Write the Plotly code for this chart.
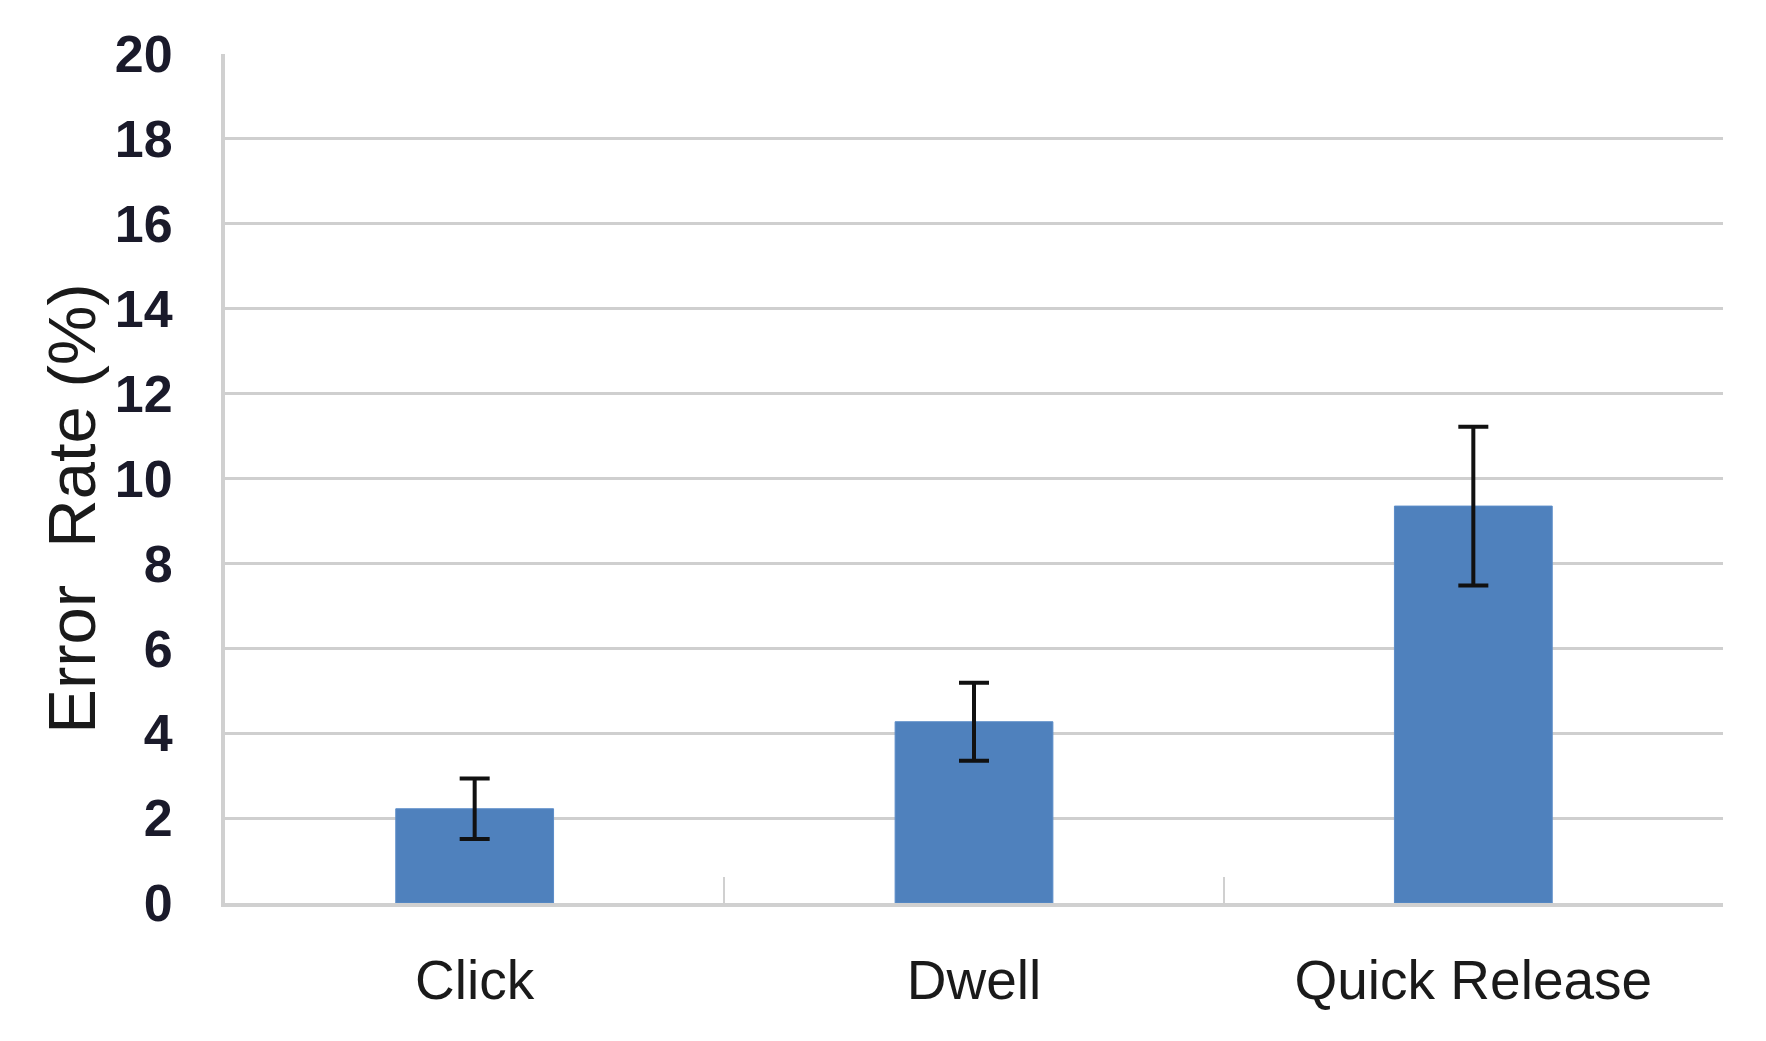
import plotly.graph_objects as go

categories = ["Click", "Dwell", "Quick Release"]
error_rate = [2.22, 4.27, 9.35]
error_sd = [0.71, 0.92, 1.87]
y_ticks = list(range(0, 21, 2))

fig = go.Figure()
fig.add_trace(go.Bar(
    x=categories,
    y=error_rate,
    marker=dict(color="#4f81bd", line=dict(color="#5b8cc8", width=1)),
    error_y=dict(type="data", array=error_sd, visible=True,
                 color="#111111", thickness=4, width=15),
    showlegend=False,
))

fig.update_layout(
    width=1750, height=1025,
    margin=dict(l=217, r=35, t=46, b=130),
    paper_bgcolor="white", plot_bgcolor="white",
    bargap=0.684,
    font=dict(family="Liberation Sans, Arial, sans-serif", color="#1a1a1a"),
)
fig.update_yaxes(
    range=[0, 20], tickvals=y_ticks, ticktext=[str(v) for v in y_ticks],
    showgrid=True, gridcolor="#cfcfcf", gridwidth=3,
    showline=True, linecolor="#d0d0d0", linewidth=4,
    zeroline=False, ticks="",
    ticklabelstandoff=38,
    tickfont=dict(family="Liberation Sans, Arial, sans-serif", size=52,
                  color="#1a1a2a", weight="bold"),
)
fig.update_xaxes(
    showline=True, linecolor="#d0d0d0", linewidth=4,
    ticks="inside", tickson="boundaries", ticklen=26, tickwidth=2,
    tickcolor="#d0d0d0",
    ticklabelstandoff=26,
    tickfont=dict(family="Liberation Sans, Arial, sans-serif", size=55,
                  color="#1a1a1a"),
)
fig.add_annotation(
    text="Error  Rate (%)", textangle=-90,
    xref="paper", yref="paper", x=-0.103, y=0.464,
    xanchor="center", yanchor="middle", showarrow=False,
    font=dict(family="Liberation Sans, Arial, sans-serif", size=67, color="#1a1a1a"),
)

fig.write_html("out.html")
